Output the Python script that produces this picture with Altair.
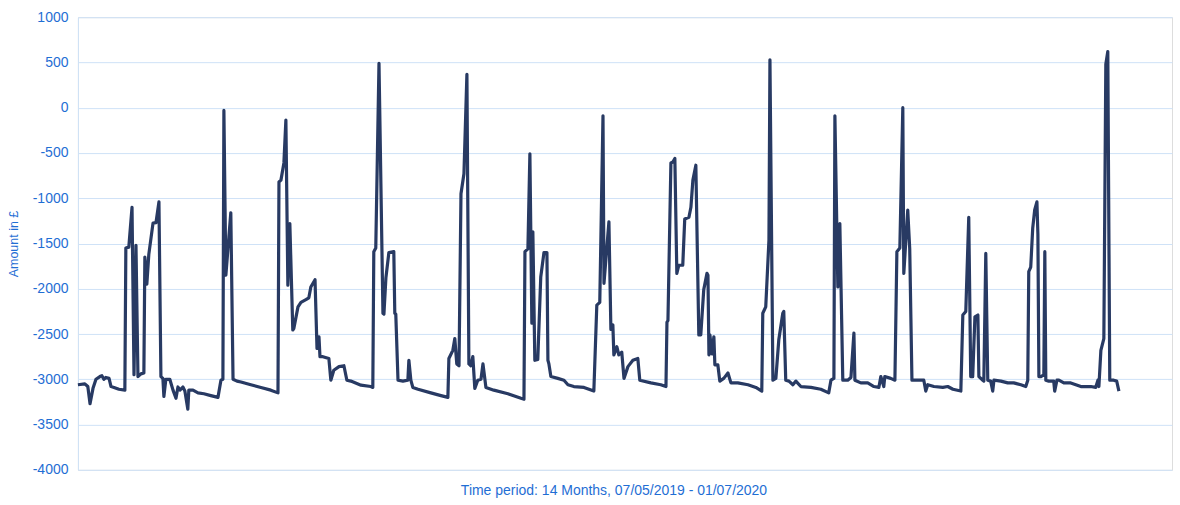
import altair as alt
import pandas as pd

# Day offset from 07/05/2019 and account balance in pounds at each change point
day = [
    0.0, 2.8, 4.0, 4.9, 6.1, 7.3, 8.9, 9.7, 10.5, 11.3, 12.6, 13.4, 14.6, 16.6, 19.0,
    19.4, 20.6, 21.9, 22.7, 23.5, 24.3, 25.5, 26.7, 27.1, 27.9, 28.7, 30.4, 31.6, 32.8,
    33.6, 34.4, 34.8, 35.6, 37.2, 38.5, 39.7, 40.5, 41.3, 42.5, 43.3, 44.5, 44.9, 46.6,
    48.6, 51.0, 53.8, 56.7, 57.9, 58.7, 59.1, 59.9, 61.9, 62.8, 64.4, 66.0, 70.0, 74.1,
    78.1, 81.0, 81.4, 82.2, 83.4, 84.2, 85.0, 85.8, 87.0, 87.4, 89.1, 90.3, 92.3, 93.5,
    94.3, 96.0, 96.8, 97.6, 98.0, 99.2, 101.6, 102.4, 103.6, 105.7, 107.7, 108.9, 110.5,
    114.6, 118.6, 119.4, 119.8, 120.6, 121.9, 123.5, 123.9, 124.7, 125.9, 127.9, 128.3,
    128.7, 129.6, 131.6, 133.6, 134.0, 134.8, 135.6, 137.7, 142.9, 147.0, 149.8, 150.2,
    151.8, 152.6, 153.4, 154.3, 155.1, 156.3, 157.5, 158.3, 159.1, 159.9, 160.7, 161.9,
    163.2, 164.0, 165.2, 168.4, 174.1, 179.4, 180.6, 181.0, 182.2, 183.0, 183.8, 184.2,
    185.0, 186.2, 187.4, 188.7, 189.9, 190.3, 190.7, 191.5, 194.3, 196.8, 198.4, 200.8,
    204.9, 208.9, 210.1, 211.3, 212.6, 213.0, 215.0, 215.8, 216.6, 217.0, 218.2, 219.0,
    220.2, 221.1, 222.7, 224.7, 226.7, 227.5, 232.0, 236.0, 238.1, 238.5, 238.9, 240.1,
    240.9, 241.7, 242.5, 243.3, 244.9, 245.7, 247.4, 248.2, 249.0, 250.2, 251.4, 252.2,
    253.4, 254.7, 255.1, 255.5, 255.9, 256.7, 257.5, 257.9, 259.1, 259.9, 261.5, 263.2,
    264.4, 267.2, 271.3, 274.5, 276.9, 277.3, 278.5, 279.8, 280.2, 281.4, 282.6, 283.8,
    285.4, 285.8, 286.6, 287.9, 289.5, 290.7, 292.7, 296.8, 300.8, 304.0, 304.9, 306.1,
    306.5, 307.7, 308.5, 309.7, 311.7, 313.0, 314.2, 314.6, 317.0, 319.8, 322.3, 324.3,
    325.1, 326.3, 326.7, 329.1, 330.8, 331.6, 332.8, 334.0, 334.4, 336.0, 336.8, 337.7,
    339.3, 342.5, 343.3, 344.1, 346.6, 350.2, 352.2, 354.3, 357.5, 358.3, 359.5, 360.7,
    361.5, 362.3, 363.2, 364.4, 364.8, 366.4, 366.8, 367.6, 368.4, 369.6, 370.4, 370.9,
    373.7, 376.5, 378.9, 381.8, 383.8, 384.6, 385.0, 385.8, 386.6, 387.4, 388.3, 388.7,
    389.1, 389.9, 391.1, 391.5, 391.9, 393.1, 395.1, 395.5, 396.4, 397.2, 399.2, 402.0,
    406.1, 410.1, 412.1, 413.0, 413.4, 414.2, 415.4, 416.2, 417.0, 417.8, 419.4, 420.6,
    421.5,
]

amount = [
    -3060, -3050, -3080, -3270, -3100, -3000, -2970, -2960, -3000, -2980, -2990, -3080, -3090, -3110, -3120,
    -1550, -1540, -1100, -2950, -1520, -2970, -2940, -2930, -1650, -1950, -1620, -1275, -1270, -1040,
    -2970, -2990, -3190, -3000, -3000, -3120, -3210, -3085, -3120, -3085, -3130, -3330, -3120, -3120,
    -3150, -3160, -3180, -3200, -3010, -3000, -30, -1850, -1160, -3000, -3020, -3030, -3060, -3090,
    -3120, -3150, -820, -800, -610, -137, -1960, -1280, -2455, -2440, -2200, -2150, -2120, -2100,
    -1980, -1900, -2660, -2530, -2750, -2750, -2770, -3010, -2900, -2860, -2850, -3010, -3020,
    -3065, -3080, -3090, -1590, -1550, 490, -2270, -2280, -1880, -1600, -1590, -2270,
    -2280, -3010, -3020, -3010, -2790, -3010, -3090, -3110, -3150, -3180, -3200, -2770,
    -2680, -2550, -2830, -2850, -950, -730, 370, -2830, -2850, -2750, -3100, -3010,
    -3000, -2830, -3090, -3120, -3160, -3210, -3220, -1590, -1560, -510, -2380, -1370,
    -2790, -2780, -1870, -1600, -1600, -2790, -2830, -2970, -2990, -3010, -3060, -3080,
    -3090, -3130, -2180, -2150, -90, -1940, -1260, -2450, -2400, -2730, -2640, -2730,
    -2700, -2990, -2860, -2790, -2770, -3010, -3040, -3060, -3080, -2370, -2350, -610,
    -600, -560, -1830, -1740, -1740, -1230, -1210, -1100, -800, -635, -2510, -2510,
    -2010, -1830, -1850, -2730, -2510, -2720, -2530, -2840, -2840, -3020, -2990, -2930,
    -3040, -3040, -3060, -3090, -3130, -2270, -2200, -1460, 530, -3010, -2990, -2560,
    -2270, -2250, -3010, -3020, -3060, -3020, -3080, -3090, -3110, -3150, -3010, -2990,
    -90, -1980, -1280, -3010, -3010, -2980, -2490, -3010, -3040, -3040, -3080, -3090,
    -2970, -3080, -2970, -2990, -3010, -1590, -1550, 0, -1830, -1130, -1560, -3010,
    -3010, -3010, -3130, -3060, -3080, -3090, -3080, -3110, -3130, -2290, -2250, -1210,
    -2970, -2970, -2310, -2290, -2970, -3010, -3020, -1610, -3010, -3020, -3130, -3010,
    -3020, -3040, -3040, -3060, -3080, -3010, -1810, -1760, -1330, -1130, -1040, -1400,
    -2970, -2970, -2950, -1590, -3010, -3020, -3020, -3130, -3010, -3010, -3040, -3040,
    -3080, -3080, -3090, -3010, -3080, -2680, -2550, 480, 620, -3010, -3010, -3020,
    -3130,
]

y_ticks = [1000, 500, 0, -500, -1000, -1500, -2000, -2500, -3000, -3500, -4000]

df = pd.DataFrame({"day": day, "amount": amount, "seq": range(len(day))})

label_blue = "#1f6ed4"
grid_blue = "#cfe2f7"

chart = (
    alt.Chart(df)
    .mark_line(color="#283a63", strokeWidth=3.2, strokeJoin="round")
    .encode(
        x=alt.X(
            "day:Q",
            scale=alt.Scale(domain=[0, 443], nice=False, zero=False),
            axis=alt.Axis(
                title="Time period: 14 Months, 07/05/2019 - 01/07/2020",
                labels=False,
                ticks=False,
                grid=False,
                domain=False,
                titleColor=label_blue,
                titleFont="Liberation Sans",
                titleFontSize=14,
                titleFontWeight="normal",
                titlePadding=14,
                titleX=536,
            ),
        ),
        y=alt.Y(
            "amount:Q",
            scale=alt.Scale(domain=[-4000, 1000], nice=False),
            axis=alt.Axis(
                title="Amount in £",
                values=y_ticks,
                labelExpr="'' + datum.value",
                labelColor=label_blue,
                labelFont="Liberation Sans",
                labelFontSize=14,
                labelPadding=10,
                ticks=False,
                gridColor=grid_blue,
                gridWidth=1,
                domainColor=grid_blue,
                titleColor=label_blue,
                titleFont="Liberation Sans",
                titleFontSize=12.5,
                titleFontWeight="normal",
                titlePadding=12,
            ),
        ),
        order="seq:Q",
    )
    .properties(width=1095, height=453)
    .configure_view(stroke="transparent", strokeWidth=0)
    .configure(padding={"left": 7, "top": 10, "right": 8, "bottom": 5})
)

chart.save("out.html", embed_options={"renderer": "svg", "actions": False})
